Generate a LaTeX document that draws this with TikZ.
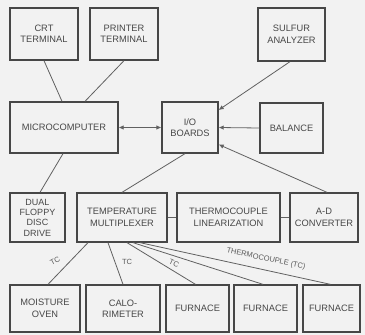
\documentclass[tikz,border=0pt]{standalone}
\usepackage{fontspec}
\setmainfont{Liberation Sans}
\usetikzlibrary{arrows.meta}
\begin{document}
\begin{tikzpicture}[x=1pt,y=-1pt,
  box/.style={draw=black!72, line width=1.3pt, align=center, inner sep=1pt,
    font=\fontsize{9.3}{11.5}\selectfont, text=black!72},
  conn/.style={draw=black!62, line width=0.8pt},
  tip/.style={-{Latex[length=5pt,width=4.5pt]}},
  lbl/.style={font=\fontsize{7.5}{9}\selectfont, text=black!65, inner sep=0.5pt}]
\fill[black!5] (0,0) rectangle (365,335);
\useasboundingbox (0,0) rectangle (365,335);
% boxes
\node[box, minimum width=68, minimum height=52] (crt) at (44,34) {CRT\\TERMINAL};
\node[box, minimum width=68, minimum height=52] (prn) at (124,34) {PRINTER\\TERMINAL};
\node[box, minimum width=67, minimum height=53] (sul) at (291.5,34.5) {SULFUR\\ANALYZER};
\node[box, minimum width=108, minimum height=51] (mic) at (64,127.5) {MICROCOMPUTER};
\node[box, minimum width=56, minimum height=51] (io) at (190,127.5) {I/O\\BOARDS};
\node[box, minimum width=63, minimum height=50] (bal) at (291.5,128) {BALANCE};
\node[box, minimum width=55, minimum height=49, font=\fontsize{9}{10.3}\selectfont] (flp) at (37.5,217.5) {DUAL\\FLOPPY\\DISC\\DRIVE};
\node[box, minimum width=90, minimum height=49] (mux) at (122,217.5) {TEMPERATURE\\MULTIPLEXER};
\node[box, minimum width=103, minimum height=49] (lin) at (228.5,217.5) {THERMOCOUPLE\\LINEARIZATION};
\node[box, minimum width=68, minimum height=49] (adc) at (324,217.5) {A-D\\CONVERTER};
\node[box, minimum width=70, minimum height=47] (ovn) at (45,308.5) {MOISTURE\\OVEN};
\node[box, minimum width=74, minimum height=47] (cal) at (123,308.5) {CALO-\\RIMETER};
\node[box, minimum width=63, minimum height=47] (fa) at (197.5,308.5) {FURNACE};
\node[box, minimum width=63, minimum height=47] (fb) at (265.5,308.5) {FURNACE};
\node[box, minimum width=57, minimum height=47] (fc) at (331.5,308.5) {FURNACE};
% connectors
\draw[conn] (crt.south) -- ([xshift=-2]mic.north);
\draw[conn] (prn.south) -- ([xshift=21]mic.north);
\draw[conn, tip] ([xshift=-1.5]sul.south) -- ([yshift=17.5]io.east);
\draw[conn, tip] (bal.west) -- (io.east);
\draw[conn, tip] ([xshift=3]adc.north) -- ([yshift=-17]io.east);
\draw[conn, {Latex[length=5pt,width=4.5pt]}-{Latex[length=5pt,width=4.5pt]}] (mic.east) -- (io.west);
\draw[conn] ([xshift=-1]mic.south) -- ([xshift=2.5]flp.north);
\draw[conn] ([xshift=-5]io.south) -- (mux.north);
\draw[conn] (mux.east) -- (lin.west);
\draw[conn] (lin.east) -- (adc.west);
\draw[conn] ([xshift=-34]mux.south) -- ([xshift=3]ovn.north);
\draw[conn] ([xshift=-14]mux.south) -- (cal.north);
\draw[conn] ([xshift=5]mux.south) -- ([xshift=-2]fa.north);
\draw[conn] ([xshift=11]mux.south) -- ([xshift=-2.5]fb.north);
\draw[conn] ([xshift=18]mux.south) -- ([xshift=-1]fc.north);
% labels
\node[lbl, rotate=28] (l1) at (55,261) {TC};
\node[lbl] (l2) at (127,262) {TC};
\node[lbl, rotate=-25] (l3) at (174,263.5) {TC};
\node[lbl, rotate=-12] (l4) at (266,259) {THERMOCOUPLE (TC)};
\end{tikzpicture}
\end{document}
